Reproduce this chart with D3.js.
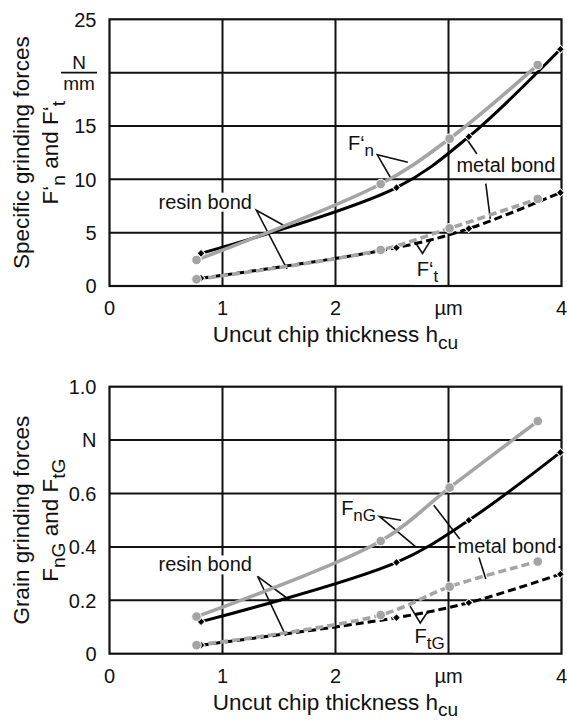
<!DOCTYPE html>
<html>
<head>
<meta charset="utf-8">
<script src="https://cdn.jsdelivr.net/npm/d3@7"></script>
<style>
    body { margin: 0; background: #fff; }
    svg { display: block; font-family: "Liberation Sans", Arial, sans-serif; }
</style>
</head>
<body>
<div id="chart"></div>
<script>
// ---- data ----
const xTicks = [0, 1, 2, 3, 4];
const xTickLabels = ['0', '1', '2', 'µm', '4'];

// measuring points, uncut chip thickness in µm
const resinX = [0.77, 2.40, 3.01, 3.79];
const metalX = [0.81, 2.54, 3.18, 3.99];

// specific grinding forces, N/mm
const fnResin = [2.44, 9.56, 13.81, 20.72];
const fnMetal = [3.06, 9.22, 14.0, 22.19];
const ftResin = [0.63, 3.38, 5.41, 8.16];
const ftMetal = [0.72, 3.59, 5.38, 8.75];
const topYTicks = [0, 5, 10, 15, 20, 25];
const topYLabels = ['0', '5', '10', '15', '', '25'];

// grain grinding forces, N
const fnGResin = [0.139, 0.422, 0.622, 0.871];
const fnGMetal = [0.120, 0.342, 0.500, 0.754];
const ftGResin = [0.032, 0.145, 0.251, 0.345];
const ftGMetal = [0.032, 0.135, 0.191, 0.298];
const botYTicks = [0, 0.2, 0.4, 0.6, 0.8, 1.0];
const botYLabels = ['0', '0.2', '0.4', '0.6', 'N', '1.0'];

// ---- layout ----
const W = 567, H = 724;
const X0 = 109.5, X1 = 561.5;
const GRAY = '#a4a4a4';
const FS_TICK = 20, FS_LABEL = 20, FS_TITLE = 22.5;

const svg = d3.select('#chart')
    .append('svg')
    .attr('width', W)
    .attr('height', H);

const x = d3.scaleLinear().domain([0, 4]).range([X0, X1]);

// text with optional subscript parts
function richText(g, parts, size) {
    const t = g.append('text').attr('font-size', size).attr('fill', '#111');
    let shifted = false;
    parts.forEach(p => {
        const sub = Array.isArray(p);
        const s = t.append('tspan').text(sub ? p[0] : p);
        if (sub && !shifted) { s.attr('dy', size * 0.3).attr('font-size', size * 0.85); shifted = true; }
        else if (sub) { s.attr('font-size', size * 0.85); }
        else if (shifted) { s.attr('dy', -size * 0.3); shifted = false; }
    });
    return t;
}

function panel(cfg) {
    const y = d3.scaleLinear().domain([0, cfg.yMax]).range([cfg.yBottom, cfg.yTop]);
    const g = svg.append('g');

    // grid + frame
    g.append('g').selectAll('line.h')
        .data(cfg.yTicks.slice(1, -1))
        .join('line')
        .attr('x1', X0).attr('x2', X1)
        .attr('y1', d => y(d)).attr('y2', d => y(d))
        .attr('stroke', '#111').attr('stroke-width', 2);
    g.append('g').selectAll('line.v')
        .data(xTicks.slice(1, -1))
        .join('line')
        .attr('x1', d => x(d)).attr('x2', d => x(d))
        .attr('y1', cfg.yTop).attr('y2', cfg.yBottom)
        .attr('stroke', '#111').attr('stroke-width', 2);
    g.append('rect')
        .attr('x', X0).attr('y', cfg.yTop)
        .attr('width', X1 - X0).attr('height', cfg.yBottom - cfg.yTop)
        .attr('fill', 'none').attr('stroke', '#111').attr('stroke-width', 2.2);

    // tick labels
    g.append('g').selectAll('text')
        .data(xTicks)
        .join('text')
        .attr('x', d => x(d)).attr('y', cfg.yBottom + 29)
        .attr('text-anchor', 'middle').attr('font-size', FS_TICK).attr('fill', '#111')
        .text((d, i) => xTickLabels[i]);
    g.append('g').selectAll('text')
        .data(cfg.yTicks)
        .join('text')
        .attr('x', X0 - 13).attr('y', d => y(d)).attr('dy', '0.36em')
        .attr('text-anchor', 'end').attr('font-size', FS_TICK).attr('fill', '#111')
        .text((d, i) => cfg.yLabels[i]);
    if (cfg.unitFrac) {
        const uy = y(cfg.unitFrac.at);
        g.append('text').attr('x', 79).attr('y', uy - 3.5).attr('text-anchor', 'middle')
            .attr('font-size', 19).attr('fill', '#111').text(cfg.unitFrac.num);
        g.append('line').attr('x1', 61).attr('x2', 97).attr('y1', uy).attr('y2', uy)
            .attr('stroke', '#111').attr('stroke-width', 1.6);
        g.append('text').attr('x', 79).attr('y', uy + 17.5).attr('text-anchor', 'middle')
            .attr('font-size', 19).attr('fill', '#111').text(cfg.unitFrac.den);
    }

    // axis titles
    richText(g, ['Uncut chip thickness h', ['cu']], FS_TITLE)
        .attr('x', (X0 + X1) / 2).attr('y', cfg.yBottom + 56).attr('text-anchor', 'middle');
    const cy = (cfg.yTop + cfg.yBottom) / 2;
    cfg.yTitle.forEach((parts, i) => {
        richText(g, parts, FS_TITLE)
            .attr('text-anchor', 'middle')
            .attr('transform', `translate(${[29, 58][i]},${cy}) rotate(-90)`);
    });

    // annotation labels with white backing
    const gl = g.append('g');
    cfg.labels.forEach(l => {
        const t = richText(gl, l.parts, FS_LABEL).attr('x', x(l.at[0])).attr('y', y(l.at[1]));
        const b = t.node().getBBox();
        gl.insert('rect', () => t.node())
            .attr('x', b.x - 2).attr('y', b.y + 2).attr('width', b.width + 4).attr('height', b.height - 3)
            .attr('fill', '#fff');
    });
    g.append('g').selectAll('path')
        .data(cfg.leaders)
        .join('path')
        .attr('d', d => d3.line().x(p => x(p[0])).y(p => y(p[1]))(d))
        .attr('fill', 'none').attr('stroke', '#111').attr('stroke-width', 1.6);

    // curves through the measuring points
    const line = d3.line().x(d => x(d[0])).y(d => y(d[1])).curve(d3.curveCatmullRom.alpha(0.5));
    g.append('g').selectAll('path')
        .data(cfg.series)
        .join('path')
        .attr('d', s => line(d3.zip(s.xs, s.ys)))
        .attr('fill', 'none')
        .attr('stroke', s => s.color)
        .attr('stroke-width', s => s.color === GRAY ? 3.6 : 3)
        .attr('stroke-dasharray', s => s.dashed ? '8,4' : null);

    // markers
    cfg.series.forEach(s => {
        const pts = d3.zip(s.xs, s.ys);
        if (s.color === GRAY) {
            g.append('g').selectAll('circle').data(pts).join('circle')
                .attr('cx', d => x(d[0])).attr('cy', d => y(d[1])).attr('r', 4.8)
                .attr('fill', GRAY).attr('stroke', '#fff').attr('stroke-width', 1);
        } else {
            g.append('g').selectAll('path').data(pts).join('path')
                .attr('d', d3.symbol(d3.symbolSquare, 32))
                .attr('transform', d => `translate(${x(d[0])},${y(d[1])}) rotate(45)`)
                .attr('fill', '#000').attr('stroke', '#fff').attr('stroke-width', 1);
        }
    });
}

panel({
    yTop: 19.3, yBottom: 286, yMax: 25,
    yTicks: topYTicks, yLabels: topYLabels,
    unitFrac: { at: 20, num: 'N', den: 'mm' },
    yTitle: [['Specific grinding forces'], ['F‘', ['n'], ' and F‘', ['t']]],
    series: [
        { xs: metalX, ys: ftMetal, color: '#000', dashed: true },
        { xs: resinX, ys: ftResin, color: GRAY, dashed: true },
        { xs: metalX, ys: fnMetal, color: '#000' },
        { xs: resinX, ys: fnResin, color: GRAY }
    ],
    labels: [
        { parts: ['F‘', ['n']], at: [2.11, 12.75] },
        { parts: ['metal bond'], at: [3.07, 10.7] },
        { parts: ['resin bond'], at: [0.434, 7.25] },
        { parts: ['F‘', ['t']], at: [2.72, 0.95] }
    ],
    leaders: [
        [[2.64, 11.6], [2.37, 12.3], [2.49, 10.1]],
        [[3.16, 13.8], [3.25, 12.4]],
        [[3.33, 9.6], [3.37, 6.3]],
        [[1.54, 5.7], [1.30, 7.1], [1.57, 1.6]],
        [[2.70, 4.2], [2.77, 3.05], [2.84, 4.25]]
    ]
});

panel({
    yTop: 386.7, yBottom: 653.7, yMax: 1.0,
    yTicks: botYTicks, yLabels: botYLabels,
    yTitle: [['Grain grinding forces'], ['F', ['nG'], ' and F', ['tG']]],
    series: [
        { xs: metalX, ys: ftGMetal, color: '#000', dashed: true },
        { xs: resinX, ys: ftGResin, color: GRAY, dashed: true },
        { xs: metalX, ys: fnGMetal, color: '#000' },
        { xs: resinX, ys: fnGResin, color: GRAY }
    ],
    labels: [
        { parts: ['F', ['nG']], at: [2.05, 0.519] },
        { parts: ['metal bond'], at: [3.08, 0.378] },
        { parts: ['resin bond'], at: [0.434, 0.308] },
        { parts: ['F', ['tG']], at: [2.70, 0.039] }
    ],
    leaders: [
        [[2.58, 0.50], [2.39, 0.514], [2.71, 0.40]],
        [[2.87, 0.556], [3.10, 0.43]],
        [[3.27, 0.36], [3.33, 0.28]],
        [[1.59, 0.202], [1.31, 0.29], [1.56, 0.068]],
        [[2.66, 0.178], [2.75, 0.115], [2.82, 0.16]]
    ]
});
</script>
</body>
</html>
